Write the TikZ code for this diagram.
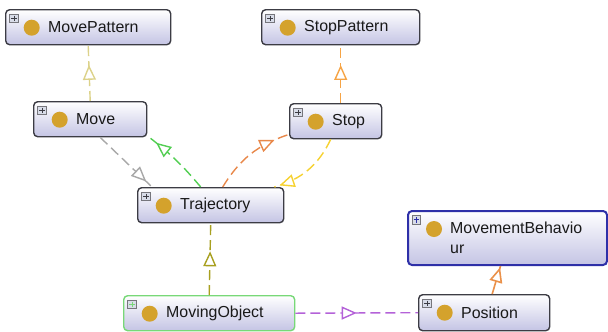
\documentclass[tikz,border=0pt]{standalone}
\usepackage{fontspec}
\setmainfont{Liberation Sans}
\usetikzlibrary{arrows.meta,decorations.markings}
\definecolor{boxline}{HTML}{3C3C44}
\definecolor{boxfill}{HTML}{C4C4E4}
\definecolor{dotgold}{HTML}{D4A22C}
\definecolor{plusfill}{HTML}{D8DCE8}
\definecolor{khaki}{HTML}{DCD28A}
\definecolor{orangetop}{HTML}{F6A445}
\definecolor{grayrel}{HTML}{A8A8A8}
\definecolor{greenrel}{HTML}{52CE52}
\definecolor{orangemid}{HTML}{E8884A}
\definecolor{yellowrel}{HTML}{F6D232}
\definecolor{oliverel}{HTML}{A8A020}
\definecolor{purplerel}{HTML}{B462D8}
\definecolor{orangebot}{HTML}{EA914A}
\definecolor{greenbox}{HTML}{78D878}
\definecolor{bluebox}{HTML}{2E30A8}
\tikzset{
  cls/.style={draw=boxline,line width=1.4bp,rounded corners=4bp,top color=white,bottom color=boxfill,
    minimum width=#1,minimum height=35bp,inner sep=0,anchor=north west,
    path picture={
      \draw[line width=0.6bp,draw=boxline!70,fill=plusfill,sharp corners] ([shift={(4bp,-4.5bp)}]path picture bounding box.north west) rectangle ++(8.5bp,-8.5bp);
      \draw[line width=0.9bp,sharp corners] ([shift={(8.25bp,-6bp)}]path picture bounding box.north west) -- ++(0,-5.5bp);
      \draw[line width=0.9bp,sharp corners] ([shift={(5.5bp,-8.75bp)}]path picture bounding box.north west) -- ++(5.5bp,0);
      \fill[dotgold] ([shift={(26bp,-18bp)}]path picture bounding box.north west) circle (8bp);
    }},
  lbl/.style={anchor=west,xshift=43bp,inner sep=0,text=black!90,font=\fontsize{16}{20}\selectfont},
  rel/.style={line width=1.4bp,dash pattern=on 10bp off 5bp},
  tipat/.style={postaction={decorate},decoration={markings,mark=at position #1 with {\arrow{Triangle[open,length=15bp,width=13bp,fill=white]}}}}
}
\begin{document}
\begin{tikzpicture}[x=1bp,y=-1bp]
\useasboundingbox (0,0) rectangle (608,331);
\node[cls=165bp,label={[lbl]west:MovePattern}] (mp) at (5,9) {};
\node[cls=158bp,label={[lbl]west:StopPattern}] (sp) at (261,9) {};
\node[cls=113bp,label={[lbl]west:Move}] (mv) at (33,101) {};
\node[cls=92bp,label={[lbl]west:Stop}] (st) at (289,103) {};
\node[cls=146bp,label={[lbl]west:Trajectory}] (tr) at (137,187) {};
\node[cls=171bp,draw=greenbox,label={[lbl]west:MovingObject}] (mo) at (123,295) {};
\node[cls=199bp,minimum height=54bp,draw=bluebox,line width=2bp,label={[lbl,align=left]west:MovementBehavio\\ur}] (mb) at (407,210) {};
\node[cls=131bp,minimum height=36bp,label={[lbl]west:Position}] (po) at (418,294) {};
\draw[rel,khaki,tipat=0.65] (mv.north) -- (mp.south);
\draw[rel,orangetop,tipat=0.66] (sp.south |- st.north) -- (sp.south);
\draw[rel,grayrel,tipat=0.89] ([xshift=10bp]mv.south) -- ([xshift=15bp]tr.north west);
\draw[rel,greenrel,tipat=0.88] ([xshift=-10bp]tr.north) to[bend right=6] ([xshift=2bp]mv.south east);
\draw[rel,orangemid,tipat=0.82] ([xshift=12bp]tr.north) to[bend left=20] ([yshift=5bp]st.south west);
\draw[rel,yellowrel,tipat=0.93] ([xshift=-5bp]st.south) to[bend left=24] ([xshift=-10bp]tr.north east);
\draw[rel,oliverel,tipat=0.61] (mo.north) -- (tr.south);
\draw[rel,purplerel,tipat=0.5] (mo.east) -- (po.west);
\draw[line width=1.6bp,orangebot,tipat=0.95] ([xshift=8bp]po.north) -- ([xshift=-7bp]mb.south);
\end{tikzpicture}
\end{document}
